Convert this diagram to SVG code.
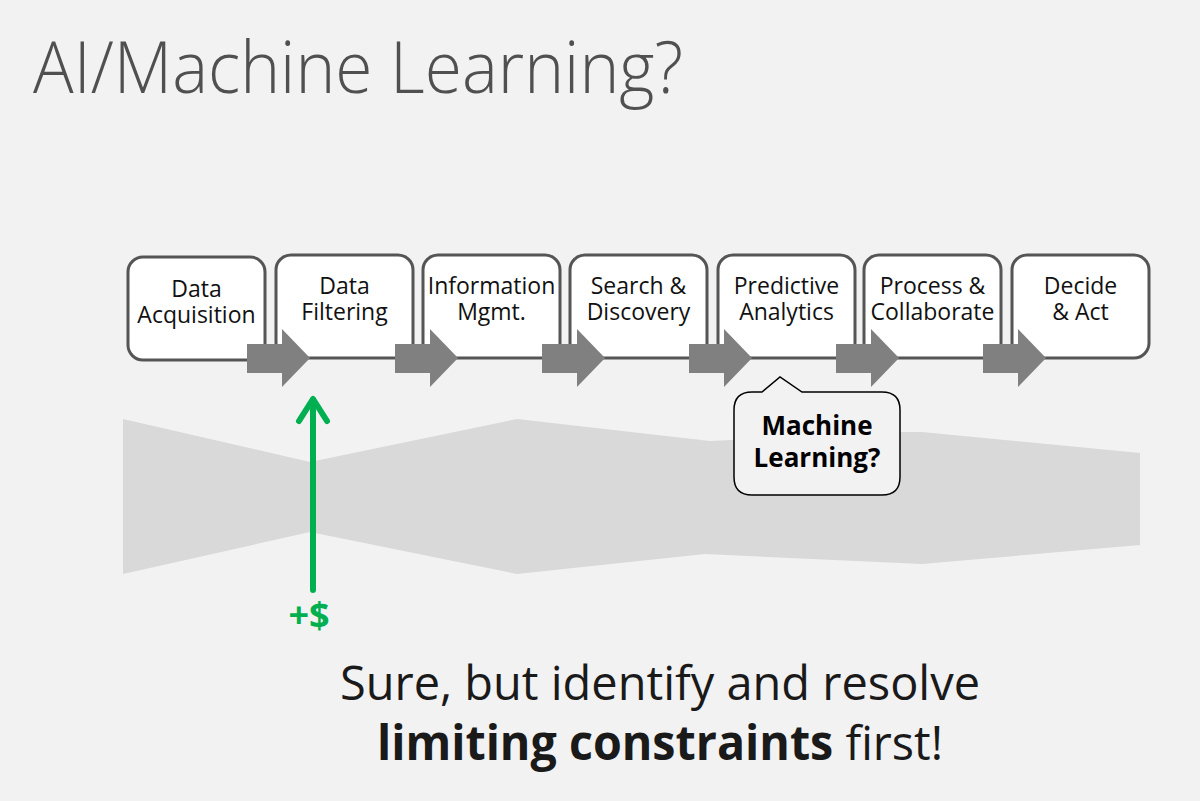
<svg xmlns="http://www.w3.org/2000/svg" width="1200" height="801" viewBox="0 0 1200 801">
<style>
.box{fill:#ffffff;stroke:#555555;stroke-width:3}
.lbl{font-family:"Open Sans","Noto Sans","Liberation Sans",sans-serif;font-size:23px;fill:#111111;text-anchor:middle}
.arr{fill:#808080}
.green{stroke:#00b050;stroke-width:6;fill:none;stroke-linecap:round;stroke-linejoin:round}
</style>
<defs>
<path id="blk" d="M0,-14 H35 V-29 L63,0 L35,29 V15 H0 Z"/>
</defs>
<rect x="0" y="0" width="1200" height="801" fill="#f2f2f2"/>
<text x="33" y="93" font-family="'Open Sans','Noto Sans','Liberation Sans',sans-serif" font-weight="300" font-size="72" fill="#505050" textLength="650" lengthAdjust="spacingAndGlyphs">AI/Machine Learning?</text>
<polygon id="band" points="123,419 310,462 517,419 710,441 901,432 922,432 1140,453 1140,545 922,564 705,554 517,574 310,532 123,574" fill="#d9d9d9"/>
<g id="n1"><rect class="box" x="128" y="257" width="137" height="103" rx="15"/><text class="lbl" x="196.5" y="297">Data</text><text class="lbl" x="196.5" y="323">Acquisition</text></g>
<g id="n2"><rect class="box" x="276" y="255" width="137" height="103" rx="15"/><text class="lbl" x="344.5" y="294">Data</text><text class="lbl" x="344.5" y="320">Filtering</text></g>
<g id="n3"><rect class="box" x="423" y="255" width="137" height="103" rx="15"/><text class="lbl" x="491.5" y="294">Information</text><text class="lbl" x="491.5" y="320">Mgmt.</text></g>
<g id="n4"><rect class="box" x="570" y="255" width="137" height="103" rx="15"/><text class="lbl" x="638.5" y="294">Search &amp;</text><text class="lbl" x="638.5" y="320">Discovery</text></g>
<g id="n5"><rect class="box" x="718" y="255" width="137" height="103" rx="15"/><text class="lbl" x="786.5" y="294">Predictive</text><text class="lbl" x="786.5" y="320">Analytics</text></g>
<g id="n6"><rect class="box" x="864" y="255" width="137" height="103" rx="15"/><text class="lbl" x="932.5" y="294">Process &amp;</text><text class="lbl" x="932.5" y="320">Collaborate</text></g>
<g id="n7"><rect class="box" x="1012" y="255" width="137" height="103" rx="15"/><text class="lbl" x="1080.5" y="294">Decide</text><text class="lbl" x="1080.5" y="320">&amp; Act</text></g>
<g id="connectors">
<use href="#blk" class="arr" transform="translate(247,358)"/>
<use href="#blk" class="arr" transform="translate(395,358)"/>
<use href="#blk" class="arr" transform="translate(542,358)"/>
<use href="#blk" class="arr" transform="translate(689,358)"/>
<use href="#blk" class="arr" transform="translate(836,358)"/>
<use href="#blk" class="arr" transform="translate(983,358)"/>
<line class="green" x1="313" y1="590" x2="313" y2="400" stroke-linecap="butt"/>
<polyline class="green" points="299,421 313,399 327,421"/>
</g>
<g id="callout">
<path d="M752,392 H762 L780,377 L802,392 H882 Q900,392 900,410 V477 Q900,495 882,495 H752 Q734,495 734,477 V410 Q734,392 752,392 Z" fill="#f2f2f2" stroke="#000000" stroke-width="1.5"/>
<text x="817" y="435" font-family="'Open Sans','Noto Sans','Liberation Sans',sans-serif" font-weight="bold" font-size="26" fill="#000000" text-anchor="middle">Machine</text>
<text x="817" y="467" font-family="'Open Sans','Noto Sans','Liberation Sans',sans-serif" font-weight="bold" font-size="26" fill="#000000" text-anchor="middle">Learning?</text>
</g>
<text id="cost" x="309" y="628" font-family="'Open Sans','Noto Sans','Liberation Sans',sans-serif" font-weight="bold" font-size="36" fill="#00b050" text-anchor="middle">+$</text>
<text x="340" y="700" font-family="'Open Sans','Noto Sans','Liberation Sans',sans-serif" font-size="48" fill="#1a1a1a" textLength="640" lengthAdjust="spacingAndGlyphs">Sure, but identify and resolve</text>
<text x="377" y="760" font-family="'Open Sans','Noto Sans','Liberation Sans',sans-serif" font-size="48" fill="#1a1a1a" textLength="566" lengthAdjust="spacingAndGlyphs"><tspan font-weight="bold">limiting constraints</tspan> first!</text>
</svg>
